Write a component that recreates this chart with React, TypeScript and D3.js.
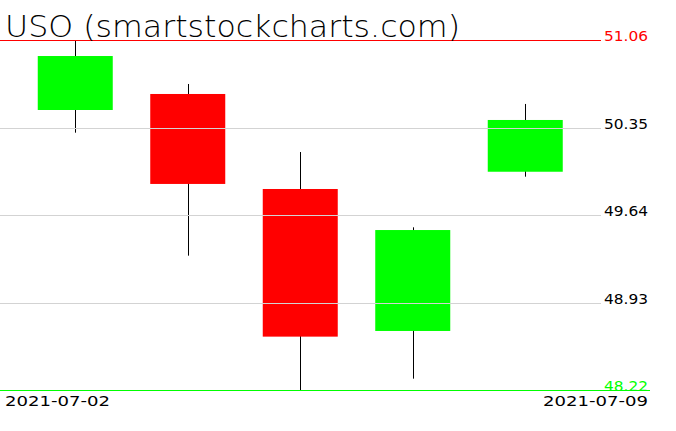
import React from "react";
import * as d3 from "d3";

const dates = ["2021-07-02", "2021-07-06", "2021-07-07", "2021-07-08", "2021-07-09"];
const opens = [50.492, 50.622, 49.851, 48.699, 49.991];
const highs = [51.06, 50.703, 50.151, 49.54, 50.541];
const lows = [50.308, 49.31, 48.22, 48.312, 49.951];
const closes = [50.93, 49.892, 48.653, 49.518, 50.411];
const tickValues = [51.06, 50.35, 49.64, 48.93, 48.22];
const title = "USO (smartstockcharts.com)";

const W = 676;
const H = 431;

export default function App() {
  const y = d3.scaleLinear().domain([48.22, 51.06]).range([390, 40]);
  const x = d3
    .scaleBand<string>()
    .domain(dates)
    .range([19, 581.5])
    .paddingInner(1 / 3)
    .paddingOuter(1 / 6);
  const maxV = d3.max(highs) as number;
  const minV = d3.min(lows) as number;
  const font = "'DejaVu Sans', sans-serif";

  return (
    <div style={{ position: "absolute", left: 0, top: 0 }}>
      <svg width={W} height={H} style={{ display: "block", background: "#fff" }}>
        {dates.map((d, i) => {
          const cx = Math.round((x(d) as number) + x.bandwidth() / 2) + 0.5;
          const up = closes[i] >= opens[i];
          const top = y(Math.max(opens[i], closes[i]));
          const bot = y(Math.min(opens[i], closes[i]));
          return (
            <g key={d}>
              <line x1={cx} x2={cx} y1={y(highs[i])} y2={y(lows[i])} stroke="#000" strokeWidth={1} />
              <rect
                x={x(d) as number}
                y={top}
                width={x.bandwidth()}
                height={bot - top}
                fill={up ? "#00ff00" : "#ff0000"}
              />
            </g>
          );
        })}
        {tickValues.map((v) => {
          const yy = Math.round(y(v)) + 0.5;
          const isMax = v === maxV;
          const isMin = v === minV;
          const color = isMax ? "#ff0000" : isMin ? "#00ff00" : "#d3d3d3";
          const labelColor = isMax ? "#ff0000" : isMin ? "#00ff00" : "#000";
          return (
            <g key={v}>
              <line x1={0} x2={isMin ? 650 : 601} y1={yy} y2={yy} stroke={color} strokeWidth={1} />
              <text
                x={604}
                y={Math.round(y(v)) + 1}
                fontFamily={font}
                fontSize={14}
                fill={labelColor}
                textLength={44}
                lengthAdjust="spacingAndGlyphs"
              >
                {v.toFixed(2)}
              </text>
            </g>
          );
        })}
        <text
          x={5}
          y={37}
          fontFamily={font}
          fontWeight={200}
          fontSize={31}
          fill="#000"
          textLength={455}
          lengthAdjust="spacingAndGlyphs"
        >
          {title}
        </text>
        <text x={5} y={406} fontFamily={font} fontSize={14} fill="#000" textLength={105} lengthAdjust="spacingAndGlyphs">
          {dates[0]}
        </text>
        <text
          x={648}
          y={406}
          textAnchor="end"
          fontFamily={font}
          fontSize={14}
          fill="#000"
          textLength={105}
          lengthAdjust="spacingAndGlyphs"
        >
          {dates[dates.length - 1]}
        </text>
      </svg>
    </div>
  );
}
